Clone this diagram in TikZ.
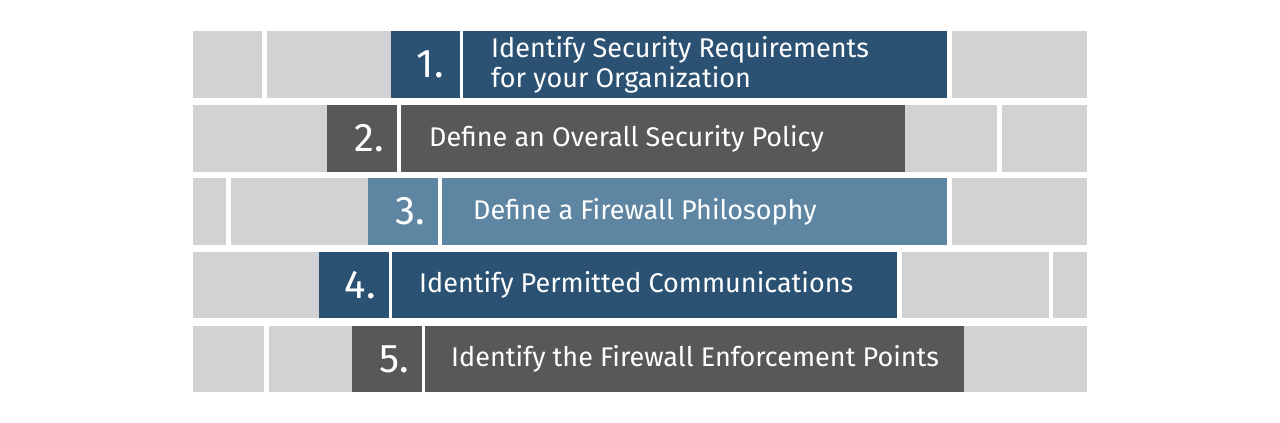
\documentclass[tikz,border=0pt]{standalone}
\usepackage{fontspec}
\setmainfont{Fira Sans}
\definecolor{dblue}{HTML}{2B5173}
\definecolor{dgray}{HTML}{58585A}
\definecolor{lblue}{HTML}{5E86A2}
\definecolor{lgray}{HTML}{D1D2D4}
\newcommand\blk[6]{\node[blk,fill=#6,minimum width={#4pt-#2pt},minimum height={#5pt-#3pt},anchor=north west] (#1) at (#2,#3) {};}
\tikzset{
  blk/.style={rectangle,draw=none,inner sep=0pt,outer sep=0pt},
  num/.style={anchor=east,text=white,font=\fontsize{40}{40}\selectfont,inner sep=0pt},
  lbl/.style={anchor=west,text=white,font=\fontsize{27}{30}\selectfont,inner sep=0pt,align=left},
}
\begin{document}
\begin{tikzpicture}[x=1pt,y=-1pt]
\useasboundingbox[fill=white] (0,0) rectangle (1280,423);
% row 1
\blk{g11}{193}{31}{262}{98}{lgray}
\blk{g12}{267}{31}{391}{98}{lgray}
\blk{n1}{391}{31}{460}{98}{dblue}
\blk{b1}{463}{31}{947}{98}{dblue}
\blk{g13}{952}{31}{1087}{98}{lgray}
% row 2
\blk{g21}{193}{105}{327}{172}{lgray}
\blk{n2}{327}{105}{397}{172}{dgray}
\blk{b2}{401}{105}{905}{172}{dgray}
\blk{g22}{905}{105}{997}{172}{lgray}
\blk{g23}{1002}{105}{1087}{172}{lgray}
% row 3
\blk{g31}{193}{178}{226}{245}{lgray}
\blk{g32}{231}{178}{368}{245}{lgray}
\blk{n3}{368}{178}{438}{245}{lblue}
\blk{b3}{442}{178}{947}{245}{lblue}
\blk{g33}{952}{178}{1087}{245}{lgray}
% row 4
\blk{g41}{193}{252}{319}{318}{lgray}
\blk{n4}{319}{252}{389}{318}{dblue}
\blk{b4}{392}{252}{897}{318}{dblue}
\blk{g42}{902}{252}{1049}{318}{lgray}
\blk{g43}{1053}{252}{1087}{318}{lgray}
% row 5
\blk{g51}{193}{326}{264}{392}{lgray}
\blk{g52}{269}{326}{352}{392}{lgray}
\blk{n5}{352}{326}{422}{392}{dgray}
\blk{b5}{425}{326}{964}{392}{dgray}
\blk{g53}{964}{326}{1087}{392}{lgray}
% numbers
\node[num] (k1) at ([xshift=-16pt]n1.east) {1.};
\node[num] (k2) at ([xshift=-13pt]n2.east) {2.};
\node[num] (k3) at ([xshift=-13pt]n3.east) {3.};
\node[num] (k4) at ([xshift=-13pt]n4.east) {4.};
\node[num] (k5) at ([xshift=-13pt]n5.east) {5.};
% labels
\node[lbl] (t1) at (491,64.5) {Identify Security Requirements\\for your Organization};
\node[lbl] (t2) at (429,138.5) {Define an Overall Security Policy};
\node[lbl] (t3) at (473,211.5) {Define a Firewall Philosophy};
\node[lbl] (t4) at (419,285) {Identify Permitted Communications};
\node[lbl] (t5) at (451,359) {Identify the Firewall Enforcement Points};
\end{tikzpicture}
\end{document}
